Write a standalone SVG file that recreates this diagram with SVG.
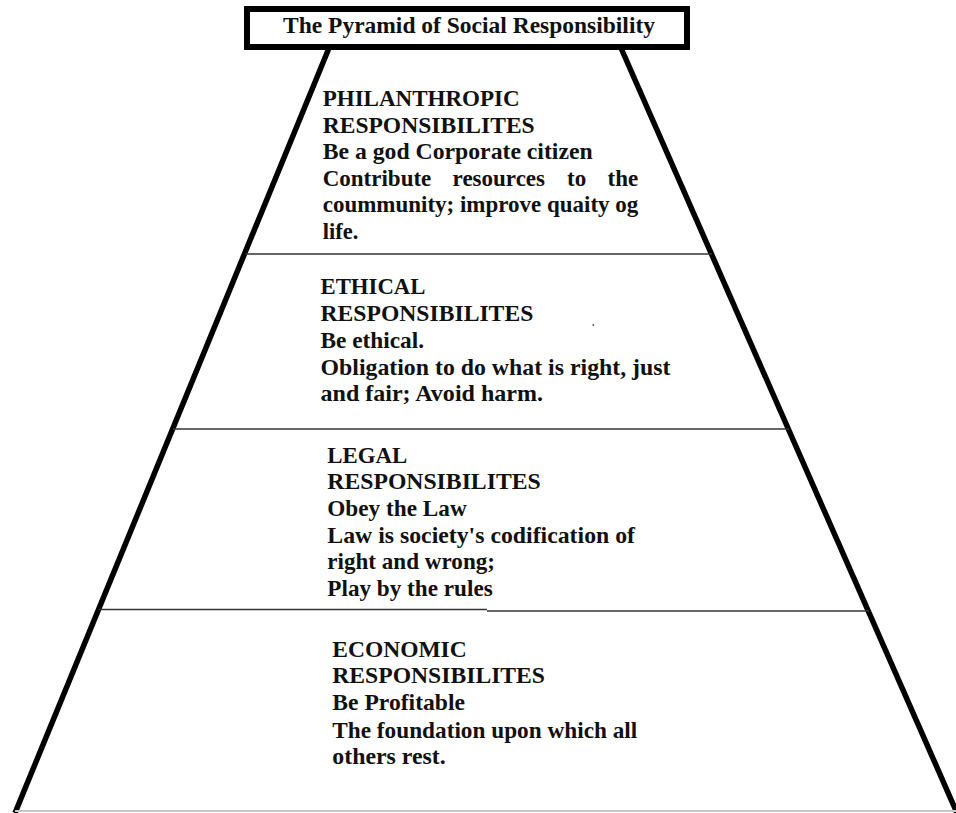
<svg xmlns="http://www.w3.org/2000/svg" width="956" height="813" viewBox="0 0 956 813">
  <style>
    .t { font-family: "Liberation Serif", "Times New Roman", serif; font-weight: bold; font-size: 23px; fill: #111; }
    .side { stroke: #000; stroke-width: 5.5; fill: none; stroke-linecap: butt; }
    .tier { stroke: #333; stroke-width: 1.6; fill: none; }
  </style>
  <rect width="956" height="813" fill="#fff"/>

  <!-- pyramid outline and tier dividers -->
  <g id="outline">
    <line class="side" x1="329" y1="48" x2="15" y2="813"/>
    <line class="side" x1="621" y1="48" x2="957" y2="813"/>
    <line class="tier" x1="245" y1="254" x2="712" y2="254"/>
    <line class="tier" x1="173" y1="429" x2="789" y2="429"/>
    <line class="tier" x1="99" y1="609.5" x2="487" y2="609.5"/>
    <line class="tier" x1="487" y1="611" x2="869" y2="611"/>
    <line x1="15" y1="811" x2="956" y2="811" stroke="#c8c8c8" stroke-width="2"/>
  </g>

  <!-- title -->
  <g id="title">
    <rect x="247" y="9" width="440" height="38" fill="#fff" stroke="#000" stroke-width="6"/>
    <text class="t" x="283" y="33" textLength="372" lengthAdjust="spacingAndGlyphs">The Pyramid of Social Responsibility</text>
  </g>

  <g id="philanthropic">
    <text class="t" x="322.7" y="106" textLength="197" lengthAdjust="spacingAndGlyphs">PHILANTHROPIC</text>
    <text class="t" x="322.7" y="132.5" textLength="212" lengthAdjust="spacingAndGlyphs">RESPONSIBILITES</text>
    <text class="t" x="322.7" y="159" textLength="270" lengthAdjust="spacingAndGlyphs">Be a god Corporate citizen</text>
    <!-- justified line: words placed individually -->
    <text class="t" y="185.5"><tspan x="322.7">Contribute</tspan><tspan x="452.6">resources</tspan><tspan x="567.1">to</tspan><tspan x="607.6">the</tspan></text>
    <text class="t" x="322.7" y="212" textLength="315.6" lengthAdjust="spacingAndGlyphs">coummunity; improve quaity og</text>
    <text class="t" x="322.7" y="238.5" textLength="35.6" lengthAdjust="spacingAndGlyphs">life.</text>
  </g>

  <g id="ethical">
    <text class="t" x="320.5" y="294" textLength="105" lengthAdjust="spacingAndGlyphs">ETHICAL</text>
    <text class="t" x="320.5" y="321" textLength="212.8" lengthAdjust="spacingAndGlyphs">RESPONSIBILITES</text>
    <text class="t" x="320.5" y="347.5" textLength="103.5" lengthAdjust="spacingAndGlyphs">Be ethical.</text>
    <text class="t" x="320.5" y="374.5" textLength="350" lengthAdjust="spacingAndGlyphs">Obligation to do what is right, just</text>
    <text class="t" x="320.5" y="401" textLength="222.5" lengthAdjust="spacingAndGlyphs">and fair; Avoid harm.</text>
    <circle cx="593.3" cy="325" r="0.9" fill="#555"/>
  </g>

  <g id="legal">
    <text class="t" x="327.3" y="462.7" textLength="80" lengthAdjust="spacingAndGlyphs">LEGAL</text>
    <text class="t" x="327.3" y="489.3" textLength="213.4" lengthAdjust="spacingAndGlyphs">RESPONSIBILITES</text>
    <text class="t" x="327.3" y="516" textLength="139.4" lengthAdjust="spacingAndGlyphs">Obey the Law</text>
    <text class="t" x="327.3" y="542.7" textLength="307.7" lengthAdjust="spacingAndGlyphs">Law is society's codification of</text>
    <text class="t" x="327.3" y="569" textLength="167.7" lengthAdjust="spacingAndGlyphs">right and wrong;</text>
    <text class="t" x="327.3" y="595.5" textLength="165.4" lengthAdjust="spacingAndGlyphs">Play by the rules</text>
  </g>

  <g id="economic">
    <text class="t" x="332.3" y="656.7" textLength="134.4" lengthAdjust="spacingAndGlyphs">ECONOMIC</text>
    <text class="t" x="332.3" y="683.3" textLength="212.7" lengthAdjust="spacingAndGlyphs">RESPONSIBILITES</text>
    <text class="t" x="332.3" y="710.3" textLength="132.7" lengthAdjust="spacingAndGlyphs">Be Profitable</text>
    <text class="t" x="332.3" y="737.5" textLength="305" lengthAdjust="spacingAndGlyphs">The foundation upon which all</text>
    <text class="t" x="332.3" y="764.3" textLength="113.4" lengthAdjust="spacingAndGlyphs">others rest.</text>
  </g>
</svg>
